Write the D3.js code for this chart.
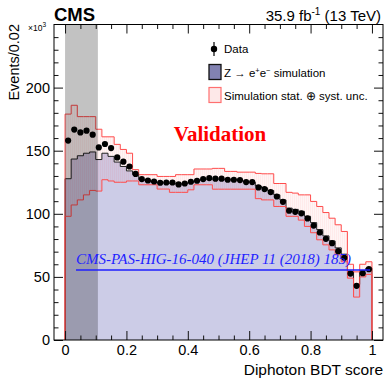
<!DOCTYPE html>
<html>
<head>
<meta charset="utf-8">
<script src="https://cdn.jsdelivr.net/npm/d3@7"></script>
<style>
body { margin: 0; background: white; }
svg { display: block; font-family: "Liberation Sans", Arial, sans-serif; }
</style>
</head>
<body>
<svg class="svgMain" width="385" height="378"></svg>
<script>
// Diphoton BDT score in Z -> ee events, data vs simulation.

FRAME_L = 54;
FRAME_R = 383;
FRAME_T = 24.5;
FRAME_B = 340;

// Data (x10^3 events per 0.02 bin, bins from 0 to 1)
var binWidth = 0.02;
var dataValues = [158, 166.7, 164.5, 165.9, 162.7, 152.6, 155.3, 152.1, 144.7, 141.3,
                  137.5, 131.6, 127.5, 126.4, 125.6, 124.6, 124.8, 124.8, 123.3, 124,
                  125.4, 126.2, 127.5, 128.3, 127.8, 127.8, 127, 127, 126.7, 125.1,
                  125.1, 120.9, 119.6, 117.2, 113.7, 109.5, 102.4, 101.6, 100.4, 96.3,
                  90.7, 85.2, 80.2, 76.7, 70.4, 65.1, 52.6, 42.9, 52.9, 56.1];
var simValues = [127.8, 143.4, 146, 148, 149, 143, 148, 145.5, 141, 137.5,
                 134, 131, 127, 126, 125, 124.5, 124.5, 124, 123.5, 124,
                 125, 126, 127, 127.5, 127.5, 127.5, 127, 127, 126.5, 125.5,
                 125, 122, 120.5, 118.5, 115, 111, 104.5, 103.5, 102, 98,
                 93, 87.5, 82.5, 78.5, 73, 68, 54.5, 44, 55, 57];
var uncLow = [98, 107, 111, 115, 118.5, 118, 127, 126, 125, 125,
              126, 126, 123, 123, 123, 119.6, 119.6, 117, 117, 117,
              119, 123, 123, 123, 119.5, 119.5, 119.5, 119.5, 119.5, 119.5,
              119.5, 112, 111, 111, 105.8, 105.8, 98, 98, 95, 90,
              85, 79.4, 75.4, 71.4, 67.5, 62, 49, 34, 50, 52];
var uncHigh = [179, 186, 177, 177, 177, 167, 161, 161, 155, 151,
               148, 135, 131, 131, 131, 129.6, 129.6, 129.6, 131, 131,
               131, 135.5, 135.5, 135.5, 136, 136, 133.6, 133.6, 133, 133,
               133, 132, 131.7, 131.7, 124, 124, 117, 116.4, 115, 115,
               109.8, 105.8, 101, 96.5, 91.3, 86, 60, 54, 60, 62];
var xTickLabels = [0, 0.2, 0.4, 0.6, 0.8, 1];
var yTickLabels = [0, 50, 100, 150, 200];
var grayRegion = [0, 0.107];

var svgMain;
var x, y;

// Helper Functions
function histPoints (values) {
    // bin edges with the last value repeated, for step curves
    let pts = values.map(function (v, i) { return [i * binWidth, v]; });
    pts.push([values.length * binWidth, values[values.length - 1]]);
    return pts;
}

function stepLine (values) {
    // ROOT "hist" style: drops to zero at both ends
    let pts = histPoints(values);
    pts.unshift([0, 0]);
    pts.push([values.length * binWidth, 0]);
    return d3.line().curve(d3.curveStepAfter)
        .x(function (d) { return x(d[0]); })
        .y(function (d) { return y(d[1]); })(pts);
}

// Main Functions
function setupSVG () {
    svgMain = d3.select(".svgMain");
    x = d3.scaleLinear().domain([-0.036, 1.036]).range([FRAME_L, FRAME_R]);
    y = d3.scaleLinear().domain([0, 250]).range([FRAME_B, FRAME_T]);

    let defs = svgMain.append("defs");
    defs.append("clipPath").attr("id", "frameClip")
        .append("rect")
        .attr("x", FRAME_L).attr("y", FRAME_T)
        .attr("width", FRAME_R - FRAME_L).attr("height", FRAME_B - FRAME_T);
    let pat = defs.append("pattern").attr("id", "hatch")
        .attr("patternUnits", "userSpaceOnUse")
        .attr("width", 2).attr("height", 2);
    pat.append("rect").attr("width", 2).attr("height", 2)
        .attr("fill", "rgba(255,90,90,0.06)");
    pat.append("rect").attr("width", 0.6).attr("height", 2)
        .attr("fill", "rgba(255,0,0,0.07)");
}

function drawHistograms () {
    let g = svgMain.append("g").attr("clip-path", "url(#frameClip)");

    // Simulation filled histogram
    g.append("path")
        .attr("d", d3.area().curve(d3.curveStepAfter)
            .x(function (d) { return x(d[0]); })
            .y0(y(0))
            .y1(function (d) { return y(d[1]); })(histPoints(simValues)))
        .attr("fill", "#ccccE7");

    // Uncertainty band
    let bandPts = histPoints(uncLow).map(function (d, i) {
        return [d[0], d[1], histPoints(uncHigh)[i][1]];
    });
    g.append("path")
        .attr("d", d3.area().curve(d3.curveStepAfter)
            .x(function (d) { return x(d[0]); })
            .y0(function (d) { return y(d[1]); })
            .y1(function (d) { return y(d[2]); })(bandPts))
        .attr("fill", "url(#hatch)");

    // Simulation outline
    g.append("path")
        .attr("d", stepLine(simValues))
        .attr("fill", "none").attr("stroke", "#222").attr("stroke-width", 1);

    // Band outlines
    g.append("path")
        .attr("d", stepLine(uncLow))
        .attr("fill", "none").attr("stroke", "#ff4c4c").attr("stroke-width", 1);
    g.append("path")
        .attr("d", stepLine(uncHigh))
        .attr("fill", "none").attr("stroke", "#ff4c4c").attr("stroke-width", 1);

    // Gray excluded region
    g.append("rect")
        .attr("x", x(grayRegion[0])).attr("y", FRAME_T)
        .attr("width", x(grayRegion[1]) - x(grayRegion[0]))
        .attr("height", FRAME_B - FRAME_T)
        .attr("fill", "#000").attr("opacity", 0.24);

    // Data points
    g.selectAll(".dataPt").data(dataValues).enter().append("circle")
        .attr("class", "dataPt")
        .attr("cx", function (d, i) { return x((i + 0.5) * binWidth); })
        .attr("cy", function (d) { return y(d); })
        .attr("r", 3.1)
        .attr("fill", "black");
}

function drawAxes () {
    let fmt = d3.format("~g");
    let xMinor = d3.range(0, 1.001, 0.05).filter(function (v) { return Math.abs(v * 5 - Math.round(v * 5)) > 1e-6; });
    let yMinor = d3.range(0, 250, 10).filter(function (v) { return v % 50 != 0; });

    let bottom = svgMain.append("g").attr("transform", "translate(0," + FRAME_B + ")");
    bottom.call(d3.axisBottom(x).tickValues(xTickLabels).tickSize(-9).tickPadding(5).tickFormat(fmt));
    bottom.append("g").call(d3.axisBottom(x).tickValues(xMinor).tickSize(-4.5).tickFormat(""));

    let top = svgMain.append("g").attr("transform", "translate(0," + FRAME_T + ")");
    top.call(d3.axisTop(x).tickValues(xTickLabels).tickSize(-9).tickFormat(""));
    top.append("g").call(d3.axisTop(x).tickValues(xMinor).tickSize(-4.5).tickFormat(""));

    let left = svgMain.append("g").attr("transform", "translate(" + FRAME_L + ",0)");
    left.call(d3.axisLeft(y).tickValues(yTickLabels).tickSize(-9).tickPadding(4).tickFormat(fmt));
    left.append("g").call(d3.axisLeft(y).tickValues(yMinor).tickSize(-4.5).tickFormat(""));

    let right = svgMain.append("g").attr("transform", "translate(" + FRAME_R + ",0)");
    right.call(d3.axisRight(y).tickValues(yTickLabels).tickSize(-9).tickFormat(""));
    right.append("g").call(d3.axisRight(y).tickValues(yMinor).tickSize(-4.5).tickFormat(""));

    svgMain.selectAll(".domain").remove();
    svgMain.selectAll(".tick line").attr("stroke", "#111");
    svgMain.selectAll(".tick text")
        .attr("font-family", "Liberation Sans, Arial, sans-serif")
        .attr("font-size", 14.5).attr("fill", "black");

    svgMain.append("rect")
        .attr("x", FRAME_L).attr("y", FRAME_T)
        .attr("width", FRAME_R - FRAME_L).attr("height", FRAME_B - FRAME_T)
        .attr("fill", "none").attr("stroke", "black").attr("stroke-width", 1);
}

function drawLabels () {
    svgMain.append("text")
        .attr("x", 54).attr("y", 20.5)
        .attr("font-size", 18.5).attr("font-weight", "bold")
        .text("CMS");

    let lumi = svgMain.append("text")
        .attr("x", 381).attr("y", 20.5)
        .attr("text-anchor", "end").attr("font-size", 15);
    lumi.append("tspan").text("35.9 fb");
    lumi.append("tspan").attr("dy", -6).attr("font-size", 10).text("-1");
    lumi.append("tspan").attr("dy", 6).text(" (13 TeV)");

    let expo = svgMain.append("text")
        .attr("x", 28).attr("y", 31).attr("font-size", 8.5);
    expo.append("tspan").text("\u00d710");
    expo.append("tspan").attr("dy", -4).attr("font-size", 6.5).text("3");

    svgMain.append("text")
        .attr("transform", "translate(19,24) rotate(-90)")
        .attr("text-anchor", "end").attr("font-size", 14.5)
        .text("Events/0.02");

    svgMain.append("text")
        .attr("x", 383).attr("y", 375)
        .attr("text-anchor", "end").attr("font-size", 15.5)
        .text("Diphoton BDT score");

    svgMain.append("text")
        .attr("x", 220).attr("y", 141)
        .attr("text-anchor", "middle")
        .attr("font-family", "Liberation Serif, Times New Roman, serif")
        .attr("font-size", 21).attr("font-weight", "bold")
        .attr("fill", "#ff0000")
        .text("Validation");

    svgMain.append("text")
        .attr("x", 76).attr("y", 264)
        .attr("font-family", "Liberation Serif, Times New Roman, serif")
        .attr("font-size", 15).attr("font-style", "italic")
        .attr("fill", "#1f1fff")
        .text("CMS-PAS-HIG-16-040 (JHEP 11 (2018) 185)");
    svgMain.append("line")
        .attr("x1", 76).attr("x2", 370).attr("y1", 270).attr("y2", 270)
        .attr("stroke", "#1f1fff").attr("stroke-width", 1.3);
}

function drawLegend () {
    let lg = svgMain.append("g").attr("font-size", 11.5);

    // Data
    lg.append("line").attr("x1", 214).attr("x2", 214).attr("y1", 42).attr("y2", 56)
        .attr("stroke", "black").attr("stroke-width", 1.2);
    lg.append("circle").attr("cx", 214).attr("cy", 49).attr("r", 3.2).attr("fill", "black");
    lg.append("text").attr("x", 224).attr("y", 53).text("Data");

    // Simulation
    lg.append("rect").attr("x", 209).attr("y", 64.5).attr("width", 12).attr("height", 15)
        .attr("fill", "#8282b2").attr("stroke", "#111").attr("stroke-width", 1.3);
    let zt = lg.append("text").attr("x", 224).attr("y", 76.5);
    zt.append("tspan").text("Z \u2192 e");
    zt.append("tspan").attr("dy", -4).attr("font-size", 7.5).text("+");
    zt.append("tspan").attr("dy", 4).text("e");
    zt.append("tspan").attr("dy", -4).attr("font-size", 7.5).text("\u2212");
    zt.append("tspan").attr("dy", 4).text(" simulation");

    // Uncertainty
    lg.append("rect").attr("x", 209).attr("y", 87.5).attr("width", 12).attr("height", 15)
        .attr("fill", "#fde8e8").attr("stroke", "#ff7070").attr("stroke-width", 1.2);
    lg.append("text").attr("x", 224).attr("y", 99.5)
        .text("Simulation stat. \u2295 syst. unc.");
}

setupSVG();
drawHistograms();
drawAxes();
drawLabels();
drawLegend();
</script>
</body>
</html>
